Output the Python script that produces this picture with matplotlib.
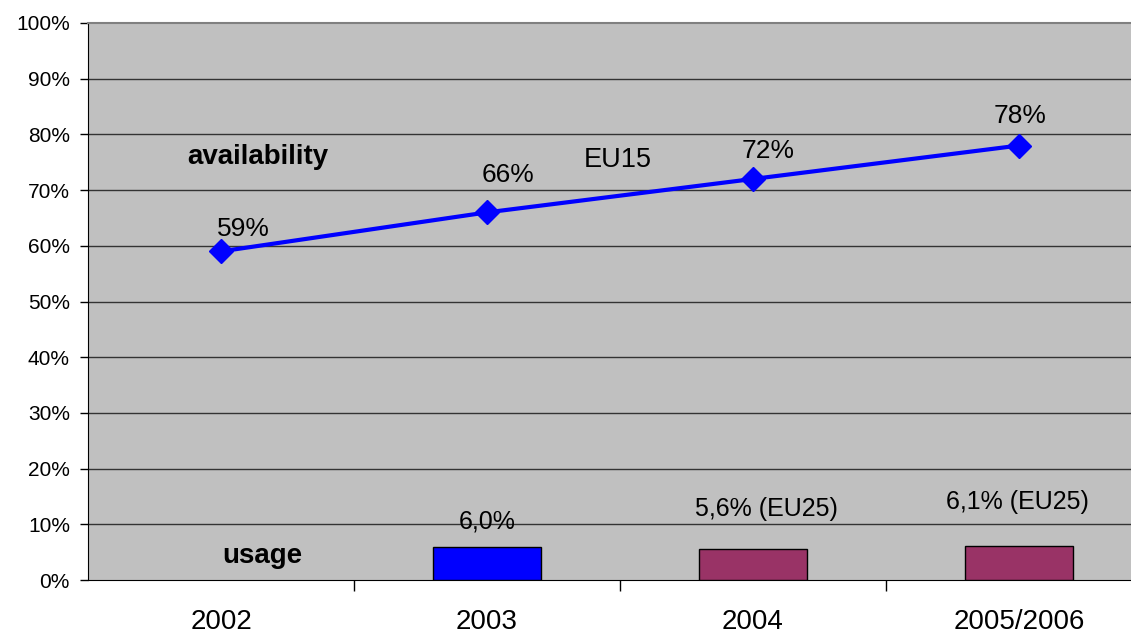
import matplotlib.pyplot as plt

# --- data -------------------------------------------------------------------
categories = ["2002", "2003", "2004", "2005/2006"]
availability = [59, 66, 72, 78]            # EU15 availability, %
availability_labels = ["59%", "66%", "72%", "78%"]
usage_idx = [1, 2, 3]                      # categories that have a usage bar
usage = [6.0, 5.6, 6.1]                    # usage, %
usage_labels = ["6,0%", "5,6% (EU25)", "6,1% (EU25)"]
usage_colors = ["#0000FF", "#993366", "#993366"]
y_ticks = list(range(0, 101, 10))

# label offsets in points (dx, dy)
avail_offsets = [(16, 16), (15, 27), (11, 20), (1, 21)]
usage_offsets = [(0, 18), (10, 29), (-1, 32)]

plt.rcParams['font.family'] = ['Liberation Sans', 'DejaVu Sans']

fig = plt.figure(figsize=(11.31, 6.33), dpi=100)
# plot area runs past the right edge like the original
ax = fig.add_axes([88 / 1131, 1 - 580 / 633, 4 * 266 / 1131, 557 / 633])
ax.set_facecolor("#C0C0C0")

x = list(range(len(categories)))

# grid
for v in y_ticks[1:-1]:
    ax.axhline(v, color="#333333", lw=1.0, zorder=1)

# usage bars
ax.bar(usage_idx, usage, width=0.405, color=usage_colors, edgecolor="black",
       linewidth=1.0, zorder=3)
for i, v, lab, (dx, dy) in zip(usage_idx, usage, usage_labels, usage_offsets):
    ax.annotate(lab, (i, v), xytext=(dx, dy), textcoords="offset points",
                ha="center", va="center", fontsize=18)

# availability line
ax.plot(x, availability, color="#0000FF", lw=3, marker="D", ms=12,
        zorder=4, clip_on=False)
for i, v, lab, (dx, dy) in zip(x, availability, availability_labels, avail_offsets):
    ax.annotate(lab, (i, v), xytext=(dx, dy), textcoords="offset points",
                ha="center", va="center", fontsize=19)

ax.text(0.14, 75.9, "availability", fontsize=20, fontweight="bold",
        ha="center", va="center")
ax.text(0.155, 4.3, "usage", fontsize=20, fontweight="bold",
        ha="center", va="center")
ax.text(1.49, 75.4, "EU15", fontsize=19.5, ha="center", va="center")

# axes
ax.set_xlim(-0.5, len(categories) - 0.5)
ax.set_ylim(0, 100)
ax.set_yticks(y_ticks)
ax.set_yticklabels([f"{v}%" for v in y_ticks], fontsize=15)
ax.tick_params(axis="y", direction="out", length=6, width=1, pad=7)

ax.set_xticks(x)
ax.set_xticklabels(categories, fontsize=20)
ax.tick_params(axis="x", which="major", length=0, pad=21)
ax.set_xticks([i + 0.5 for i in x[:-1]], minor=True)
ax.tick_params(axis="x", which="minor", direction="out", length=8, width=1)

ax.spines["top"].set_color("#808080")
ax.spines["top"].set_linewidth(1.5)
ax.spines["right"].set_visible(False)
ax.spines["left"].set_color("black")
ax.spines["bottom"].set_color("black")

fig.savefig("out.png", dpi=100)
